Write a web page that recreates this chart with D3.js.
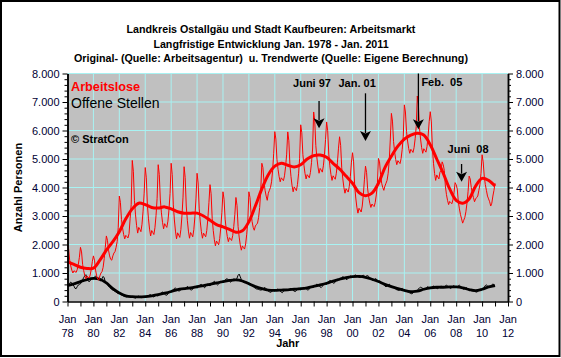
<!DOCTYPE html>
<html><head><meta charset="utf-8">
<script src="https://cdn.jsdelivr.net/npm/d3@7"></script>
<style>
html,body{margin:0;padding:0;background:#fff;}
svg{display:block;font-family:"Liberation Sans",Arial,sans-serif;}
</style></head><body>
<svg id="c" width="561" height="358"></svg>
<script>
// ---------- DATA ----------
const startYear = 1978;           // first month = Jan 1978, monthly values
const titleLines = [
  "Landkreis Ostallgäu und Stadt Kaufbeuren: Arbeitsmarkt",
  "Langfristige Entwicklung Jan. 1978 - Jan. 2011",
  "Original- (Quelle: Arbeitsagentur)  u. Trendwerte (Quelle: Eigene Berechnung)"
];
// Arbeitslose, monthly Jan 1978 .. Jan 2011
const arbeitslose = [
  1980,1850,1450,1250,1100,1000,1080,1050,1020,1120,1300,1550,
  1900,1740,1300,1080,910,800,890,860,820,930,1130,1400,
  1600,1450,1100,900,780,750,900,1000,1050,1200,1500,1900,
  2300,2150,1800,1600,1480,1450,1600,1700,1750,1900,2100,2600,
  3700,3480,2880,2580,2350,2200,2320,2280,2230,2380,2900,3400,
  4950,4570,3550,3040,2660,2400,2600,2530,2450,2710,3170,3800,
  4700,4340,3380,2900,2540,2300,2490,2420,2350,2590,3020,3620,
  4800,4460,3560,3110,2780,2550,2730,2660,2600,2820,3230,3790,
  4850,4450,3390,2860,2470,2200,2410,2330,2250,2520,3000,3660,
  4730,4350,3350,2850,2470,2220,2420,2350,2270,2520,2970,3600,
  4500,4160,3250,2790,2450,2220,2400,2330,2270,2490,2900,3470,
  4100,3780,2920,2490,2170,1950,2120,2060,1990,2210,2600,3130,
  3850,3590,2890,2540,2280,2100,2240,2190,2140,2310,2630,3060,
  3650,3370,2630,2260,1990,1800,1950,1890,1840,2020,2360,2820,
  3850,3650,3100,2800,2600,2500,2650,2700,2750,2950,3300,3900,
  4850,4700,4200,3900,3700,3550,3800,3900,4000,4200,4600,5200,
  5960,5700,4990,4640,4380,4200,4340,4290,4240,4410,4730,5170,
  5950,5640,4800,4380,4060,3850,4020,3960,3890,4100,4480,5010,
  6200,5920,5160,4780,4490,4300,4450,4400,4340,4530,4870,5350,
  6650,6330,5470,5040,4720,4500,4670,4610,4540,4760,5150,5680,
  6300,5990,5170,4760,4460,4250,4410,4350,4290,4500,4870,5380,
  5780,5480,4690,4300,4000,3800,3960,3900,3840,4040,4390,4890,
  5220,4900,4050,3630,3310,3100,3270,3210,3140,3350,3740,4270,
  4750,4530,3950,3660,3450,3300,3420,3370,3330,3470,3740,4100,
  5020,4900,4450,4150,4000,3900,4050,4150,4250,4500,4950,5700,
  6600,6330,5610,5250,4980,4800,4940,4890,4840,5020,5340,5790,
  6900,6650,5970,5630,5370,5200,5340,5290,5230,5400,5710,6140,
  7210,6910,6110,5700,5400,5200,5360,5300,5240,5440,5800,6310,
  6660,6300,5340,4850,4490,4250,4440,4370,4300,4540,4600,4900,
  4800,4600,4050,3750,3550,3400,3510,3470,3430,3570,3820,4170,
  4100,3950,3500,3250,3050,2900,2750,2850,2950,3150,3450,3850,
  4400,4300,4000,3800,3650,3500,3600,3650,3700,3900,4100,4500,
  5150,4900,4400,4100,3900,3700,3600,3500,3350,3450,3700,3900,
  4150
];
// Offene Stellen, monthly Jan 1978 .. Jan 2011
const offeneStellen = [
  600,560,640,680,650,590,540,460,450,520,580,600,
  620,680,760,840,900,940,840,740,690,730,780,800,
  790,850,900,860,820,770,740,720,800,880,830,690,
  640,590,540,500,470,420,400,380,360,330,300,280,
  290,260,230,210,190,170,170,160,190,180,160,150,
  160,140,130,120,150,170,190,160,130,140,150,160,
  150,160,180,210,230,240,200,170,160,190,220,200,
  200,230,280,310,330,300,250,230,220,270,310,320,
  320,360,420,460,470,440,390,370,370,430,460,430,
  410,440,490,530,500,460,410,400,440,500,530,500,
  470,500,560,590,600,560,510,480,540,590,610,570,
  550,590,640,680,710,670,610,580,610,670,720,690,
  660,700,750,790,800,760,710,680,710,760,800,770,
  740,820,920,960,870,770,700,670,660,700,670,630,
  620,650,610,580,540,490,460,440,430,420,410,400,
  410,440,470,490,450,400,360,340,320,340,380,390,
  370,400,420,440,400,360,330,310,350,390,420,420,
  390,410,440,460,430,390,360,350,380,430,460,430,
  410,440,470,500,480,450,410,400,440,490,520,510,
  500,540,580,610,590,560,510,490,530,590,620,620,
  600,650,700,740,720,690,650,640,690,740,780,780,
  760,800,840,870,850,820,780,770,810,860,900,880,
  850,880,920,930,900,870,850,840,870,910,920,890,
  870,900,910,880,840,800,760,740,760,800,790,740,
  700,720,690,650,620,580,540,520,540,580,610,570,
  530,520,500,470,440,410,400,390,410,450,460,420,
  390,380,370,340,320,300,280,270,300,340,370,380,
  380,440,480,500,490,460,440,420,450,500,520,480,
  460,480,510,540,520,490,460,450,480,520,540,520,
  500,520,550,570,550,510,470,460,490,530,560,520,
  500,520,550,570,540,490,450,430,450,490,470,440,
  420,400,380,370,360,350,340,330,350,400,420,430,
  420,460,500,560,580,550,510,490,520,580,620,570,
  560
];
// Trend values, half-yearly (Jan / Jul) 1978.0 .. 2011.0
const trendStep = 0.5;
const arbeitsloseTrend = [
  1400,1300,1200,1160,1170,1450,1800,2100,2450,2900,
  3250,3450,3400,3300,3280,3320,3250,3150,3100,3100,
  3100,3000,2850,2700,2620,2530,2430,2480,2800,3350,
  3950,4450,4750,4850,4780,4720,4800,5000,5120,5140,
  5060,4850,4650,4400,4150,3820,3710,3800,4150,4700,
  5100,5450,5700,5840,5900,5840,5500,5000,4500,3950,
  3550,3450,3600,4050,4320,4250,4050
];
const offeneStellenTrend = [
  560,620,700,770,810,780,650,450,300,200,
  170,160,170,200,240,290,350,420,450,480,
  520,560,600,650,700,740,760,720,620,520,
  450,400,390,400,410,430,450,480,530,580,
  640,720,780,840,870,880,850,780,700,600,
  520,450,390,350,360,430,480,500,500,510,
  510,480,420,380,430,510,560
];
const yTicks = [0,1000,2000,3000,4000,5000,6000,7000,8000];
const xLabelYears = [1978,1980,1982,1984,1986,1988,1990,1992,1994,1996,1998,2000,2002,2004,2006,2008,2010,2012];
const legendLabels = ["Arbeitslose","Offene Stellen","© StratCon"];
// annotations: date (decimal year), arrow top value, arrow tip value, label, label baseline value
const annoLabels = ["Juni 97","Jan. 01","Feb.  05","Juni  08"];
const annoDates  = [1997 + 5/12, 2001.0, 2005 + 1/12, 2008 + 5/12];
const annoTop    = [7035, 7305, 8000, 4825];
const annoTip    = [6077, 5632, 6042, 4204];
const annoTextV  = [7516, 7530, 7561, 5221];

// ---------- CHART ----------
const W = 561, H = 358;
const svg = d3.select("#c");
const x = d3.scaleLinear().domain([1978, 2012]).range([67.5, 508]);
const y = d3.scaleLinear().domain([0, 8000]).range([301.5, 73.5]);
const de = d3.formatLocale({decimal: ",", thousands: ".", grouping: [3], currency: ["", "€"]});
const fmt = de.format(",");
const gridCol = "#a8f2f2";
const labCol = "#000033";

// frame
svg.append("rect").attr("x", 1).attr("y", 1).attr("width", W - 2.5).attr("height", H - 3)
  .attr("fill", "#fff").attr("stroke", "#000").attr("stroke-width", 2);

// titles
const titleY = [33, 47.5, 62];
svg.selectAll("text.title").data(titleLines).join("text")
  .attr("class", "title").attr("x", 271).attr("y", (d, i) => titleY[i])
  .attr("text-anchor", "middle").attr("font-size", "10.7px").attr("font-weight", "bold")
  .style("white-space", "pre").text(d => d);

// plot background
svg.append("rect").attr("x", x(1978)).attr("y", y(8000))
  .attr("width", x(2012) - x(1978)).attr("height", y(0) - y(8000)).attr("fill", "#c0c0c0");

// grid
svg.append("g").selectAll("line").data(yTicks.filter(v => v > 0)).join("line")
  .attr("x1", x(1978)).attr("x2", x(2012)).attr("y1", d => y(d)).attr("y2", d => y(d))
  .attr("stroke", gridCol).attr("stroke-width", 1);
svg.append("g").selectAll("line").data(xLabelYears.filter(v => v > 1978 && v < 2012)).join("line")
  .attr("x1", d => x(d)).attr("x2", d => x(d)).attr("y1", y(0)).attr("y2", y(8000))
  .attr("stroke", gridCol).attr("stroke-width", 1);

// series
const monthly = arr => arr.map((v, i) => ({t: startYear + i / 12, v}));
const halfYear = arr => arr.map((v, i) => ({t: startYear + i * trendStep, v}));
const rawLine = d3.line().x(d => x(d.t)).y(d => y(d.v));
const trendLine = d3.line().x(d => x(d.t)).y(d => y(d.v)).curve(d3.curveCatmullRom.alpha(0.5));

svg.append("path").datum(monthly(offeneStellen)).attr("d", rawLine)
  .attr("fill", "none").attr("stroke", "#000").attr("stroke-width", 1);
svg.append("path").datum(halfYear(offeneStellenTrend)).attr("d", trendLine)
  .attr("fill", "none").attr("stroke", "#000").attr("stroke-width", 2.8);
svg.append("path").datum(monthly(arbeitslose)).attr("d", rawLine)
  .attr("fill", "none").attr("stroke", "#ff0000").attr("stroke-width", 1);
svg.append("path").datum(halfYear(arbeitsloseTrend)).attr("d", trendLine)
  .attr("fill", "none").attr("stroke", "#ff0000").attr("stroke-width", 3);

// axes
const minorY = d3.range(0, 8001, 200).filter(v => v % 1000 !== 0);
function styleAxis(g) {
  g.selectAll("path.domain").attr("stroke", "#000").attr("stroke-width", 1.5);
  g.selectAll("line").attr("stroke", "#000");
  g.selectAll("text").attr("fill", labCol).attr("font-size", "11px")
    .attr("font-family", "'Liberation Sans',Arial,sans-serif");
}
const gl = svg.append("g").attr("transform", `translate(${x(1978)},0)`)
  .call(d3.axisLeft(y).tickValues(yTicks).tickFormat(fmt).tickSize(5).tickSizeOuter(0).tickPadding(3));
styleAxis(gl);
const glm = svg.append("g").attr("transform", `translate(${x(1978)},0)`)
  .call(d3.axisLeft(y).tickValues(minorY).tickFormat("").tickSize(3).tickSizeOuter(0));
styleAxis(glm);
const gr = svg.append("g").attr("transform", `translate(${x(2012)},0)`)
  .call(d3.axisRight(y).tickValues(yTicks).tickFormat(fmt).tickSize(5).tickSizeOuter(0).tickPadding(3));
styleAxis(gr);
const grm = svg.append("g").attr("transform", `translate(${x(2012)},0)`)
  .call(d3.axisRight(y).tickValues(minorY).tickFormat("").tickSize(3).tickSizeOuter(0));
styleAxis(grm);
const gb = svg.append("g").attr("transform", `translate(0,${y(0)})`)
  .call(d3.axisBottom(x).tickValues(d3.range(1978, 2013)).tickFormat("").tickSize(5).tickSizeOuter(0));
styleAxis(gb);

// x labels
const xl = svg.append("g").selectAll("text").data(xLabelYears).join("text")
  .attr("text-anchor", "middle").attr("font-size", "11px").attr("fill", labCol);
xl.append("tspan").attr("x", d => x(d)).attr("y", 322.5).text("Jan");
xl.append("tspan").attr("x", d => x(d)).attr("y", 336.5).text(d => String(d % 100).padStart(2, "0"));

// axis titles
svg.append("text").attr("x", (x(1978) + x(2012)) / 2).attr("y", 346.5).attr("text-anchor", "middle")
  .attr("font-size", "11px").attr("font-weight", "bold").text("Jahr");
svg.append("text").attr("transform", `translate(22,${(y(0) + y(8000)) / 2}) rotate(-90)`)
  .attr("text-anchor", "middle").attr("font-size", "11px").attr("font-weight", "bold").text("Anzahl Personen");

// legend texts
svg.append("text").attr("x", 71).attr("y", 91).attr("font-size", "12.7px").attr("font-weight", "bold")
  .attr("fill", "#ff0000").text(legendLabels[0]);
svg.append("text").attr("x", 71).attr("y", 107.7).attr("font-size", "14px")
  .attr("fill", "#000").text(legendLabels[1]);
svg.append("text").attr("x", 71).attr("y", 143.3).attr("font-size", "11px").attr("font-weight", "bold")
  .attr("fill", "#000").text(legendLabels[2]);

// annotations
const annoDx = [-26, -27, 3, -14];
const anno = annoLabels.map((l, i) => ({l, t: annoDates[i], top: annoTop[i], tip: annoTip[i], tv: annoTextV[i], dx: annoDx[i]}));
const ag = svg.append("g");
ag.selectAll("line").data(anno).join("line")
  .attr("x1", d => x(d.t)).attr("x2", d => x(d.t))
  .attr("y1", d => y(d.top)).attr("y2", d => y(d.tip) - 8)
  .attr("stroke", "#000").attr("stroke-width", 1.3);
ag.selectAll("path").data(anno).join("path")
  .attr("d", d => {
    const cx = x(d.t), ty = y(d.tip);
    return `M${cx - 5.5},${ty - 10}L${cx},${ty - 7.5}L${cx + 5.5},${ty - 10}L${cx},${ty}Z`;
  })
  .attr("fill", "#000");
ag.selectAll("text").data(anno).join("text")
  .attr("x", d => x(d.t) + d.dx).attr("y", d => y(d.tv))
  .attr("font-size", "11px").attr("font-weight", "bold").style("white-space", "pre")
  .text(d => d.l);
</script>
</body></html>
